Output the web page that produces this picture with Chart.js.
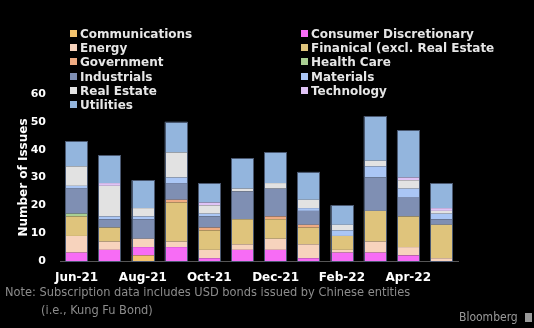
<!DOCTYPE html>
<html>
<head>
<meta charset="utf-8">
<script src="https://cdn.jsdelivr.net/npm/chart.js@4/dist/chart.umd.min.js"></script>
<style>
  html, body { margin: 0; padding: 0; background: #000; }
  #wrap { position: relative; width: 534px; height: 328px; overflow: hidden; background: #000; }
  #chart { position: absolute; left: 0; top: 0; }
  .legend { position: absolute; left: 0; top: 0; font: bold 12px 'DejaVu Sans', sans-serif; color: #e6e6e6; }
  .item { position: absolute; white-space: nowrap; line-height: 14px; }
  .sw { display: inline-block; width: 7px; height: 7px; margin-right: 3px; vertical-align: 1px; }
  .note { position: absolute; left: 5px; top: 283px; font: 12.7px 'DejaVu Sans Condensed', 'DejaVu Sans', sans-serif; color: #8c8c8c; line-height: 18px; white-space: nowrap; }
  .brand { position: absolute; left: 459px; top: 310px; font: 12px 'DejaVu Sans Condensed', sans-serif; color: #9a9a9a; }
  .brand i { display: inline-block; width: 7px; height: 9px; background: #9a9a9a; margin-left: 7px; vertical-align: -1px; }
</style>
</head>
<body>
<div id="wrap">
  <canvas id="chart" width="534" height="328"></canvas>
  <div class="legend" id="legend"></div>
  <div class="note">Note: Subscription data includes USD bonds issued by Chinese entities<br><span style="padding-left:36px">(i.e., Kung Fu Bond)</span></div>
  <div class="brand">Bloomberg<i></i></div>
</div>
<script>
// data
const months = ['Jun-21', 'Jul-21', 'Aug-21', 'Sep-21', 'Oct-21', 'Nov-21', 'Dec-21', 'Jan-22', 'Feb-22', 'Mar-22', 'Apr-22', 'May-22']
const shownMonths = ['Jun-21', 'Aug-21', 'Oct-21', 'Dec-21', 'Feb-22', 'Apr-22']
const yTicks = [0, 10, 20, 30, 40, 50, 60]

const communications = [0, 0, 2, 0, 0, 0, 0, 0, 0, 0, 0, 0]
const consumerDisc   = [3, 4, 3, 5, 1, 4, 4, 1, 3, 3, 2, 0]
const energy         = [6, 3, 3, 2, 3, 2, 4, 5, 1, 4, 3, 1]
const financial      = [7, 5, 0, 14, 7, 9, 7, 6, 5, 11, 11, 12]
const government     = [0, 0, 0, 1, 1, 0, 1, 1, 0, 0, 0, 0]
const healthCare     = [1, 0, 0, 0, 0, 0, 0, 0, 0, 0, 0, 0]
const industrials    = [9, 3, 7, 6, 4, 10, 10, 5, 0, 12, 7, 2]
const materials      = [1, 1, 1, 2, 1, 0, 0, 1, 2, 4, 3, 2]
const realEstate     = [7, 11, 3, 9, 3, 1, 2, 3, 2, 2, 3, 1]
const technology     = [0, 1, 0, 0, 1, 0, 0, 0, 0, 0, 1, 1]
const utilities      = [9, 10, 10, 11, 7, 11, 11, 10, 7, 16, 17, 9]

const series = [
  { label: 'Communications', data: communications, color: '#f4c46e' },
  { label: 'Consumer Discretionary', data: consumerDisc, color: '#f76cf5' },
  { label: 'Energy', data: energy, color: '#f7d3bd' },
  { label: 'Finanical (excl. Real Estate', data: financial, color: '#dfc47c' },
  { label: 'Government', data: government, color: '#efab82' },
  { label: 'Health Care', data: healthCare, color: '#a9cf92' },
  { label: 'Industrials', data: industrials, color: '#7f8fb3' },
  { label: 'Materials', data: materials, color: '#aac6f5' },
  { label: 'Real Estate', data: realEstate, color: '#e2e2e2' },
  { label: 'Technology', data: technology, color: '#dfc3f5' },
  { label: 'Utilities', data: utilities, color: '#93b5dd' },
]

// two-column legend, row by row
const legendEl = document.getElementById('legend')
series.forEach((s, i) => {
  const div = document.createElement('div')
  div.className = 'item'
  div.style.left = (i % 2 === 0 ? 70 : 301) + 'px'
  div.style.top = (27 + Math.floor(i / 2) * 14.2) + 'px'
  div.innerHTML = `<span class="sw" style="background:${s.color}"></span>${s.label}`
  legendEl.appendChild(div)
})

// thin outline round each whole stack
const stackOutline = {
  id: 'stackOutline',
  afterDatasetsDraw(chart) {
    const { ctx } = chart
    const metas = chart.data.datasets.map((d, i) => chart.getDatasetMeta(i))
    months.forEach((m, idx) => {
      let top = Infinity, base = null, x = null, w = null
      metas.forEach((meta, di) => {
        const el = meta.data[idx]
        if (!el || !chart.data.datasets[di].data[idx]) return
        top = Math.min(top, el.y)
        base = base === null ? el.base : Math.max(base, el.base)
        x = el.x
        w = el.width
      })
      if (x === null) return
      ctx.save()
      ctx.strokeStyle = '#4a5870'
      ctx.lineWidth = 1
      ctx.strokeRect(Math.round(x - w / 2) + 0.5, Math.round(top) + 0.5, Math.round(w) - 1, Math.round(base - top))
      ctx.restore()
    })
  }
}

new Chart(document.getElementById('chart'), {
  type: 'bar',
  data: {
    labels: months,
    datasets: series.map((s) => ({
      label: s.label,
      data: s.data,
      backgroundColor: s.color,
      borderWidth: 0,
      barPercentage: 0.68,
      categoryPercentage: 1,
    })),
  },
  options: {
    responsive: false,
    animation: false,
    layout: { padding: { top: 94, right: 76, left: 0, bottom: 0 } },
    plugins: { legend: { display: false }, tooltip: { enabled: false } },
    scales: {
      x: {
        stacked: true,
        grid: { display: false, drawTicks: false },
        border: { display: true, color: '#555555', width: 1 },
        ticks: {
          color: '#ffffff',
          font: { family: 'DejaVu Sans', size: 12, weight: 'bold' },
          padding: 10,
          autoSkip: false,
          maxRotation: 0,
          callback: (v, i) => (shownMonths.includes(months[i]) ? months[i] : ''),
        },
        afterFit: (scale) => { scale.height = 67 },
      },
      y: {
        stacked: true,
        min: 0,
        max: 60,
        grid: { display: false, drawTicks: false },
        border: { display: false },
        afterBuildTicks: (scale) => { scale.ticks = yTicks.map((v) => ({ value: v })) },
        ticks: {
          color: '#ffffff',
          font: { family: 'DejaVu Sans', size: 11, weight: 'bold' },
          padding: 14,
        },
        title: {
          display: true,
          text: 'Number of Issues',
          color: '#ffffff',
          font: { family: 'DejaVu Sans', size: 12, weight: 'bold' },
          padding: { top: 17, bottom: 0 },
        },
        afterFit: (scale) => { scale.width = 60 },
      },
    },
  },
  plugins: [stackOutline],
})
</script>
</body>
</html>
